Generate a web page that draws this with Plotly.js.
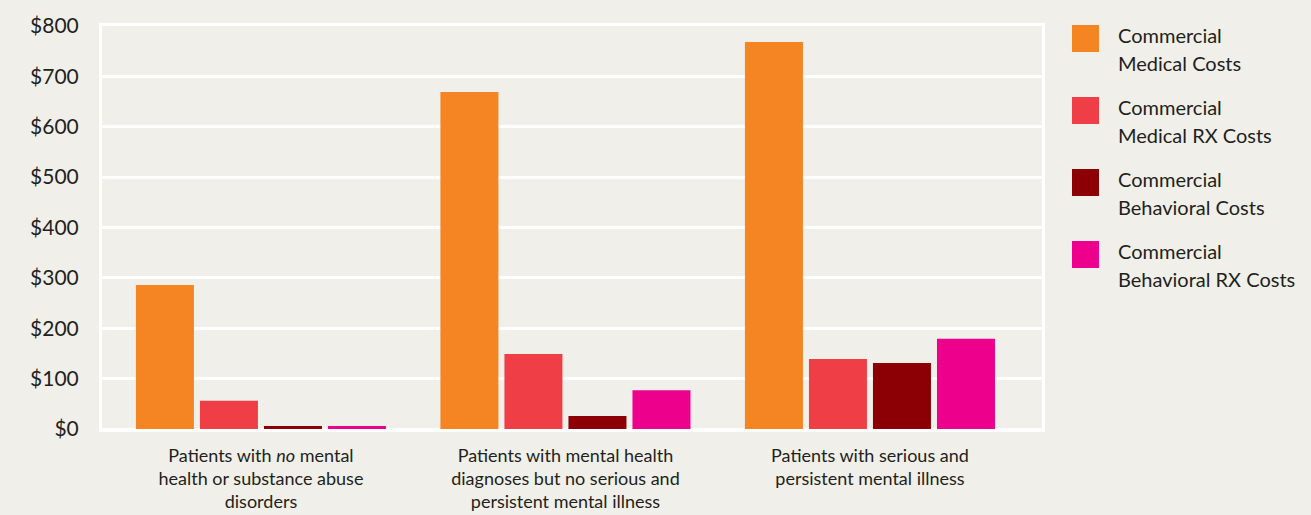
<!DOCTYPE html>
<html>
<head>
<meta charset="utf-8">
<script src="https://cdn.plot.ly/plotly-3.0.1.min.js"></script>
<style>
html,body{margin:0;padding:0;background:#f0efe9;}
#chart{width:1311px;height:515px;}
</style>
</head>
<body>
<div id="chart"></div>
<script>
const categories = [
  "Patients with <i>no</i> mental<br>health or substance abuse<br>disorders",
  "Patients with mental health<br>diagnoses but no serious and<br>persistent mental illness",
  "Patients with serious and<br>persistent mental illness"
];
const seriesNames = [
  "Commercial<br>Medical Costs",
  "Commercial<br>Medical RX Costs",
  "Commercial<br>Behavioral Costs",
  "Commercial<br>Behavioral RX Costs"
];
const medicalCosts    = [286, 669, 768];
const medicalRxCosts  = [56, 149, 139];
const behavioralCosts = [6, 26, 131];
const behavioralRxCosts = [6, 77, 179];
const colors = ["#f58422", "#ef3e45", "#8c0005", "#ec008c"];

const seriesValues = [medicalCosts, medicalRxCosts, behavioralCosts, behavioralRxCosts];
const bg = "#f0efe9";
const textColor = "#231f20";

const traces = seriesValues.map((vals, i) => ({
  type: "bar",
  x: categories,
  y: vals,
  name: seriesNames[i],
  marker: {color: colors[i], line: {width: 0}},
  showlegend: false,
  hoverinfo: "y"
}));

// Legend drawn with paper-referenced shapes/annotations
const plotTop = 26, plotBottom = 429, plotLeft = 102, plotRight = 1042;
const plotH = plotBottom - plotTop, plotW = plotRight - plotLeft;
const px2x = p => (p - plotLeft) / plotW;
const py2y = p => (plotBottom - p) / plotH;
const shapes = [];
const annotations = [];
seriesNames.forEach((name, i) => {
  const top = 25 + i * 72;
  shapes.push({
    type: "rect", xref: "paper", yref: "paper",
    x0: px2x(1072), x1: px2x(1099), y0: py2y(top + 27), y1: py2y(top),
    fillcolor: colors[i], line: {width: 0}
  });
  name.split("<br>").forEach((line, j) => {
    annotations.push({
      xref: "paper", yref: "paper", x: px2x(1116), y: py2y(top + 10 + j * 28),
      xanchor: "left", yanchor: "middle", align: "left", showarrow: false,
      text: line, font: {family: "Lato, 'Open Sans', sans-serif", size: 20, color: textColor}
    });
  });
});

const layout = {
  width: 1311, height: 515,
  paper_bgcolor: bg, plot_bgcolor: bg,
  margin: {l: plotLeft, r: 1311 - plotRight, t: plotTop, b: 515 - plotBottom, pad: 0},
  barmode: "group",
  bargap: 0.159,
  bargroupgap: 0.094,
  showlegend: false,
  font: {family: "Lato, sans-serif", color: textColor},
  xaxis: {
    type: "category",
    range: [-0.522, 2.565],
    showgrid: false, zeroline: false,
    showline: true, mirror: true, linecolor: "#ffffff", linewidth: 3,
    ticks: "outside", ticklen: 8, tickcolor: bg,
    tickfont: {family: "Lato, sans-serif", size: 18, color: textColor},
    fixedrange: true
  },
  yaxis: {
    range: [0, 800],
    dtick: 100,
    tickprefix: "$",
    showgrid: true, gridcolor: "#ffffff", gridwidth: 3,
    zeroline: true, zerolinecolor: "#ffffff", zerolinewidth: 3,
    showline: true, mirror: true, linecolor: "#ffffff", linewidth: 3,
    ticks: "outside", ticklen: 16, tickcolor: bg,
    tickfont: {family: "Lato, sans-serif", size: 21, color: textColor},
    fixedrange: true
  },
  shapes: shapes,
  annotations: annotations
};

Plotly.newPlot("chart", traces, layout, {displayModeBar: false, staticPlot: true});
</script>
</body>
</html>
